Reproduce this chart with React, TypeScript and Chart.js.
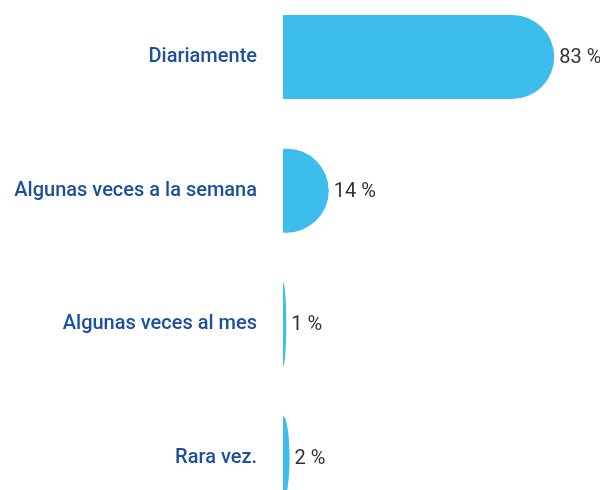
import React, { useEffect, useRef } from "react";
import { Chart, registerables } from "chart.js";

Chart.register(...registerables);

const categories = [
  "Diariamente",
  "Algunas veces a la semana",
  "Algunas veces al mes",
  "Rara vez.",
];
const values = [83, 14, 1, 2];
const valueLabels = ["83 %", "14 %", "1 %", "2 %"];

const BAR_COLOR = "#3dbdec";
const LABEL_COLOR = "#1c4f9f";
const VALUE_COLOR = "#333333";

const roundedBarsPlugin = {
  id: "roundedBars",
  afterDatasetsDraw(chart: any) {
    const ctx = chart.ctx;
    const meta = chart.getDatasetMeta(0);
    ctx.save();
    meta.data.forEach((el: any, i: number) => {
      const { x, y, base, height } = el.getProps(["x", "y", "base", "height"], true);
      const h = height;
      const top = y - h / 2;
      const bottom = y + h / 2;
      const w = x - base;
      const ry = h / 2;
      const rx = Math.min(w, ry);
      ctx.beginPath();
      ctx.moveTo(base, top);
      ctx.lineTo(x - rx, top);
      ctx.ellipse(x - rx, y, rx, ry, 0, -Math.PI / 2, Math.PI / 2);
      ctx.lineTo(base, bottom);
      ctx.closePath();
      ctx.fillStyle = BAR_COLOR;
      ctx.fill();

      ctx.fillStyle = VALUE_COLOR;
      ctx.font = "400 20px Roboto, sans-serif";
      ctx.textAlign = "left";
      ctx.textBaseline = "middle";
      ctx.fillText(valueLabels[i], x + 5, y + 1);
    });
    ctx.restore();
  },
};

export default function App() {
  const ref = useRef<HTMLCanvasElement | null>(null);

  useEffect(() => {
    if (!ref.current) return;
    const chart = new Chart(ref.current, {
      type: "bar",
      data: {
        labels: categories,
        datasets: [
          {
            data: values,
            backgroundColor: "rgba(0,0,0,0)",
            borderWidth: 0,
            barThickness: 84,
          },
        ],
      },
      options: {
        indexAxis: "y",
        animation: false,
        responsive: true,
        maintainAspectRatio: false,
        layout: { padding: { top: 57, bottom: 32, left: 0, right: 0 } },
        plugins: {
          legend: { display: false },
          tooltip: { enabled: false },
        },
        scales: {
          x: {
            display: false,
            min: 0,
            max: 97,
          },
          y: {
            type: "category",
            offset: false,
            grid: { display: false, drawTicks: false },
            border: { display: false },
            ticks: {
              color: LABEL_COLOR,
              padding: 26,
              font: { family: "Roboto, sans-serif", size: 20, weight: "500" },
            },
            afterFit(scale: any) {
              scale.width = 283;
              scale.paddingTop = 0;
              scale.paddingBottom = 0;
            },
          },
        },
      },
      plugins: [roundedBarsPlugin],
    });
    return () => chart.destroy();
  }, []);

  return (
    <div style={{ position: "absolute", left: 0, top: 0, width: 600, height: 490, background: "#fff" }}>
      <canvas ref={ref} />
    </div>
  );
}
